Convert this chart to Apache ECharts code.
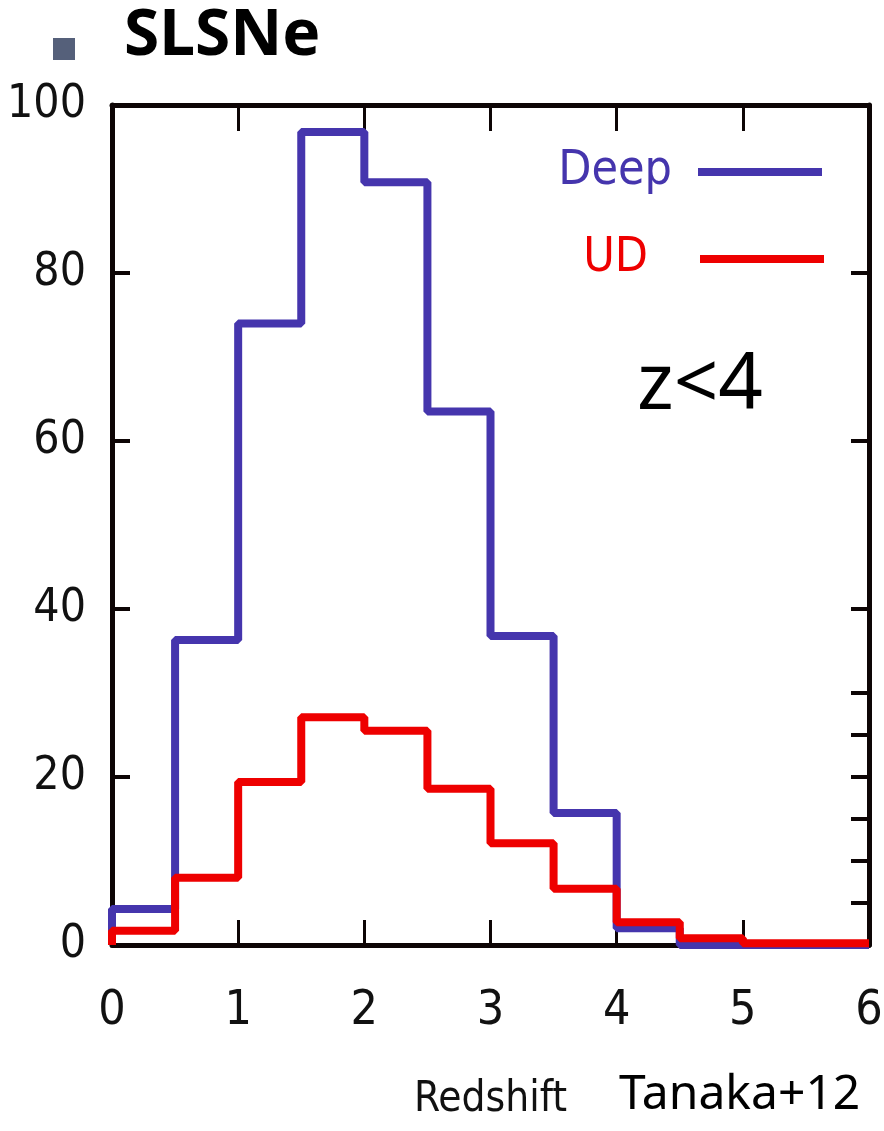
<!DOCTYPE html>
<html>
<head>
<meta charset="utf-8">
<script src="https://cdn.jsdelivr.net/npm/echarts@6/dist/echarts.min.js"></script>
<style>
html,body{margin:0;padding:0;background:#fff;}
#chart{width:884px;height:1131px;}
</style>
</head>
<body>
<div id="chart"></div>
<script>
// ---- data ----
const binEdges = [0, 0.5, 1, 1.5, 2, 2.5, 3, 3.5, 4, 4.5, 5, 5.5, 6];
const deepCounts = [4.3, 36.3, 74.0, 96.8, 90.8, 63.5, 36.8, 15.7, 2.0, 0, 0, 0];
const udCounts = [1.7, 8.0, 19.4, 27.1, 25.5, 18.6, 12.1, 6.7, 2.7, 0.8, 0.2, 0.2];
const xTicks = [0, 1, 2, 3, 4, 5, 6];
const yTicks = [0, 20, 40, 60, 80, 100];
const rightTicks = [5, 10, 15, 20, 25, 30, 40, 60, 80];
const seriesNames = ['Deep', 'UD'];

function stepData(counts) {
  const pts = [[binEdges[0], 0]];
  counts.forEach((v, i) => pts.push([binEdges[i], v]));
  pts.push([binEdges[binEdges.length - 1], counts[counts.length - 1]]);
  return pts;
}

const condensed = '"Liberation Sans Narrow", "DejaVu Sans Condensed", "Roboto Condensed", sans-serif';
const BLUE = '#4535ad';
const RED = '#ee0000';
const AX = '#0d0505';

const chart = echarts.init(document.getElementById('chart'), null, {renderer: 'canvas'});
chart.setOption({
  backgroundColor: '#ffffff',
  animation: false,
  grid: {left: 112, right: 15, top: 105, bottom: 186, containLabel: false, outerBoundsMode: 'none'},
  xAxis: [{
    type: 'value', min: 0, max: 6, interval: 1, position: 'bottom',
    name: 'Redshift', nameLocation: 'middle', nameGap: 134,
    nameTextStyle: {fontFamily: condensed, fontSize: 42, color: '#111'},
    axisLine: {show: true, onZero: false, lineStyle: {color: AX, width: 5}},
    axisTick: {show: true, inside: true, length: 25, lineStyle: {color: AX, width: 3}},
    axisLabel: {fontFamily: condensed, fontSize: 48, color: '#111', margin: 43,
      formatter: v => xTicks.includes(v) ? String(v) : ''},
    splitLine: {show: false}
  }, {
    type: 'value', min: 0, max: 6, interval: 1, position: 'top',
    axisLine: {show: true, onZero: false, lineStyle: {color: AX, width: 5}},
    axisTick: {show: true, inside: true, length: 26, lineStyle: {color: AX, width: 3}},
    axisLabel: {show: false},
    splitLine: {show: false}
  }],
  yAxis: [{
    type: 'value', min: 0, max: 100, interval: 20, position: 'left',
    axisLine: {show: true, onZero: false, lineStyle: {color: AX, width: 5}},
    axisTick: {show: true, inside: true, length: 18, lineStyle: {color: AX, width: 4}},
    axisLabel: {fontFamily: condensed, fontSize: 46, color: '#111', margin: 26,
      formatter: v => yTicks.includes(v) ? String(v) : ''},
    splitLine: {show: false}
  }, {
    type: 'value', min: 0, max: 100, position: 'right',
    axisLine: {show: true, onZero: false, lineStyle: {color: AX, width: 5}},
    axisTick: {show: true, inside: true, length: 18, customValues: rightTicks, lineStyle: {color: AX, width: 4}},
    axisLabel: {show: false, customValues: rightTicks},
    splitLine: {show: false}
  }],
  legend: [{
    data: [seriesNames[0]], orient: 'vertical', align: 'right',
    right: 62, top: 142, padding: 0,
    icon: 'rect', itemWidth: 124, itemHeight: 8,
    textStyle: {fontFamily: condensed, fontSize: 48, color: BLUE, lineHeight: 60, padding: [0, 21, 0, 0]}
  }, {
    data: [seriesNames[1]], orient: 'vertical', align: 'right',
    right: 60, top: 229, padding: 0,
    icon: 'rect', itemWidth: 124, itemHeight: 8,
    textStyle: {fontFamily: condensed, fontSize: 48, color: RED, lineHeight: 60, padding: [0, 47, 0, 0]}
  }],
  graphic: [
    {type: 'rect', left: 53, top: 38, shape: {width: 22, height: 22}, style: {fill: '#55607a'}},
    {type: 'text', left: 124, top: 5, style: {text: 'SLSNe', fontFamily: '"Noto Sans", sans-serif', fontWeight: 'bold', fontSize: 64, fill: '#000'}},
    {type: 'text', left: 637, top: 348, style: {text: 'z<4', fontFamily: '"Noto Sans", sans-serif', fontSize: 78, fill: '#000'}},
    {type: 'text', left: 619, top: 1071, style: {text: 'Tanaka+12', fontFamily: '"Noto Sans", sans-serif', fontSize: 48, fill: '#000'}}
  ],
  series: [{
    name: seriesNames[0], type: 'line', step: 'end', data: stepData(deepCounts),
    showSymbol: false, symbol: 'none', color: BLUE,
    lineStyle: {color: BLUE, width: 8}, itemStyle: {color: BLUE}, z: 3
  }, {
    name: seriesNames[1], type: 'line', step: 'end', data: stepData(udCounts),
    showSymbol: false, symbol: 'none', color: RED,
    lineStyle: {color: RED, width: 8}, itemStyle: {color: RED}, z: 4
  }]
});
</script>
</body>
</html>
